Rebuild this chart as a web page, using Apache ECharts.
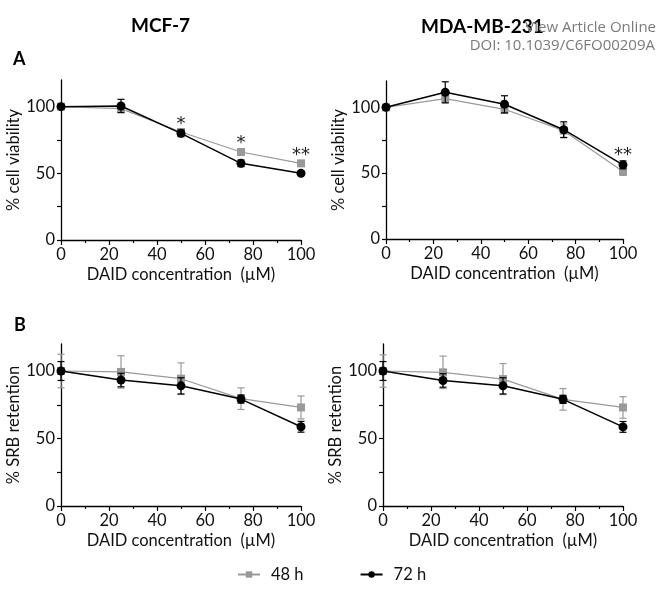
<!DOCTYPE html>
<html><head><meta charset="utf-8">
<script src="https://cdn.jsdelivr.net/npm/echarts@6/dist/echarts.min.js"></script>
<style>html,body{margin:0;padding:0;background:#fff}#c{width:659px;height:590px}</style>
</head><body><div id="c"></div>
<script>
// concentrations (µM)
const conc = [0, 25, 50, 75, 100];
// Panel A: % cell viability
const mcfViab48 = [100, 98.5, 81, 66, 57.5];
const mcfViab48Err = [1, 2, 2, 2.5, 2];
const mcfViab72 = [100, 100.5, 80, 57.5, 50];
const mcfViab72Err = [1, 5, 2.5, 2.5, 1.5];
const mdaViab48 = [100, 106.6, 98.5, 82.3, 51.3];
const mdaViab48Err = [1, 3, 3, 5, 3];
const mdaViab72 = [100, 111.4, 102.3, 83, 56.3];
const mdaViab72Err = [1, 8, 6.5, 6, 3];
// Panel B: % SRB retention
const mcfSrb48 = [100, 99.3, 94.3, 79.5, 73];
const mcfSrb48Err = [12.4, 12, 11.7, 8, 8.5];
const mcfSrb72 = [100, 93.3, 89, 79.2, 58.7];
const mcfSrb72Err = [7, 5, 6, 3, 4];
const mdaSrb48 = [100, 99, 94, 79, 73];
const mdaSrb48Err = [12, 12, 11.5, 8, 8];
const mdaSrb72 = [100, 93, 89, 79, 58.6];
const mdaSrb72Err = [7, 5, 6, 3, 4];
// significance marks [x, y-value, text]
const mcfStars = [[50, 87.5, '*'], [75, 73.5, '*'], [100, 64, '**']];
const mdaStars = [[100, 64, '**']];
const xTicks = [0, 20, 40, 60, 80, 100];
const yTicks = [0, 50, 100];

const FONT = 'Lato';
const GRAY = '#999999';
const grids = [
  {left: 61, top: 80, width: 240, height: 160},
  {left: 386, top: 81, width: 237, height: 158},
  {left: 61, top: 344, width: 240, height: 162},
  {left: 383, top: 344, width: 240, height: 162}
];
const yNames = ['% cell viability', '% cell viability', '% SRB retention', '% SRB retention'];

function xAxis(i) {
  return {
    type: 'value', gridIndex: i, min: 0, max: 100, interval: 20,
    name: 'DAID concentration  (µM)', nameLocation: 'middle', nameGap: 26,
    nameTextStyle: {fontFamily: FONT, fontSize: 16.5, color: '#111'},
    axisLine: {show: true, lineStyle: {color: '#000', width: 1.3}},
    axisTick: {show: true, length: 5, lineStyle: {color: '#000', width: 1.2}},
    minorTick: {show: true, splitNumber: 2, length: 3, lineStyle: {color: '#000', width: 1.2}},
    axisLabel: {fontFamily: FONT, fontSize: 16.5, color: '#111', margin: 6, customValues: xTicks},
    splitLine: {show: false}
  };
}
function yAxis(i) {
  return {
    type: 'value', gridIndex: i, min: 0, max: 120,
    name: yNames[i], nameLocation: 'middle', nameGap: 37,
    nameTextStyle: {fontFamily: FONT, fontSize: 16.5, color: '#111'},
    axisLine: {show: true, lineStyle: {color: '#000', width: 1.3}},
    axisTick: {show: true, length: 4, customValues: [0, 25, 50, 75, 100], lineStyle: {color: '#000', width: 1.2}},
    axisLabel: {fontFamily: FONT, fontSize: 16.5, color: '#111', margin: 6, customValues: yTicks},
    splitLine: {show: false}
  };
}
function lineSeries(i, name, vals, isBlack) {
  return {
    type: 'line', name: name, xAxisIndex: i, yAxisIndex: i,
    data: conc.map((c, k) => [c, vals[k]]),
    symbol: isBlack ? 'circle' : 'rect', symbolSize: isBlack ? 9 : 8,
    itemStyle: {color: isBlack ? '#000' : GRAY},
    lineStyle: {color: isBlack ? '#000' : GRAY, width: isBlack ? 1.5 : 1.2},
    z: isBlack ? 4 : 3, animation: false
  };
}
function errSeries(i, vals, errs, isBlack) {
  const col = isBlack ? '#000' : GRAY;
  return {
    type: 'custom', xAxisIndex: i, yAxisIndex: i,
    data: conc.map((c, k) => [c, vals[k] - errs[k], vals[k] + errs[k]]),
    renderItem: function (params, api) {
      const lo = api.coord([api.value(0), api.value(1)]);
      const hi = api.coord([api.value(0), api.value(2)]);
      const w = 3.5;
      const st = {stroke: col, lineWidth: 1.2};
      return {type: 'group', children: [
        {type: 'line', shape: {x1: lo[0], y1: lo[1], x2: hi[0], y2: hi[1]}, style: st},
        {type: 'line', shape: {x1: lo[0] - w, y1: lo[1], x2: lo[0] + w, y2: lo[1]}, style: st},
        {type: 'line', shape: {x1: hi[0] - w, y1: hi[1], x2: hi[0] + w, y2: hi[1]}, style: st}
      ]};
    },
    z: isBlack ? 4 : 2, silent: true, animation: false, clip: false
  };
}
function starSeries(i, stars) {
  return {
    type: 'custom', xAxisIndex: i, yAxisIndex: i, data: stars,
    renderItem: function (params, api) {
      const p = api.coord([api.value(0), api.value(1)]);
      return {type: 'text', x: p[0], y: p[1] + 1, style: {
        text: stars[params.dataIndex][2], fill: '#222', font: '18px "DejaVu Sans"',
        textAlign: 'center', textVerticalAlign: 'middle'}};
    },
    silent: true, animation: false, clip: false
  };
}

const series = [];
const sets = [
  [mcfViab48, mcfViab48Err, mcfViab72, mcfViab72Err],
  [mdaViab48, mdaViab48Err, mdaViab72, mdaViab72Err],
  [mcfSrb48, mcfSrb48Err, mcfSrb72, mcfSrb72Err],
  [mdaSrb48, mdaSrb48Err, mdaSrb72, mdaSrb72Err]
];
sets.forEach((s, i) => {
  series.push(errSeries(i, s[0], s[1], false));
  series.push(lineSeries(i, '48 h', s[0], false));
  series.push(errSeries(i, s[2], s[3], true));
  series.push(lineSeries(i, '72 h', s[2], true));
});
series.push(starSeries(0, mcfStars));
series.push(starSeries(1, mdaStars));

const chart = echarts.init(document.getElementById('c'), null, {renderer: 'canvas'});
chart.setOption({
  animation: false,
  backgroundColor: '#fff',
  grid: grids,
  xAxis: [0, 1, 2, 3].map(xAxis),
  yAxis: [0, 1, 2, 3].map(yAxis),
  legend: {
    data: ['48 h', '72 h'], bottom: 2, left: 232, itemGap: 56,
    itemWidth: 22, itemHeight: 8,
    textStyle: {fontFamily: FONT, fontSize: 16.5, color: '#111', padding: [0, 0, 0, 6]}
  },
  graphic: [
    {type: 'text', left: 131, top: 16, style: {text: 'MCF-7', font: 'bold 19px ' + FONT, fill: '#000'}},
    {type: 'text', left: 13, top: 50, style: {text: 'A', font: 'bold 18px ' + FONT, fill: '#000'}},
    {type: 'text', left: 14, top: 316, style: {text: 'B', font: 'bold 18px ' + FONT, fill: '#000'}},
    {type: 'text', left: 421, top: 17, style: {text: 'MDA-MB-231', font: 'bold 19px ' + FONT, fill: '#000'}},
    {type: 'text', right: 3, top: 20, z: 100, style: {text: 'View Article Online', font: '15px "Open Sans"', fill: '#7a7a7a'}},
    {type: 'text', right: 4, top: 38, z: 100, style: {text: 'DOI: 10.1039/C6FO00209A', font: '15px "Open Sans"', fill: '#7a7a7a'}}
  ],
  series: series
});
</script></body></html>
